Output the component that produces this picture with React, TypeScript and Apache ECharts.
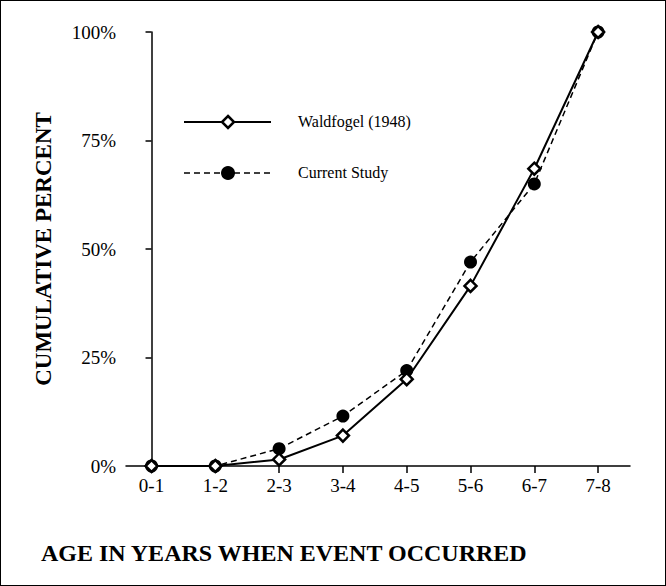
import React, { useEffect, useRef } from 'react';
import * as echarts from 'echarts';

const categories = ['0-1', '1-2', '2-3', '3-4', '4-5', '5-6', '6-7', '7-8'];
const waldfogel = [0, 0, 1.5, 7, 20, 41.5, 68.5, 100];
const currentStudy = [0, 0, 4, 11.5, 22, 47, 65, 100];
const yTicks = [0, 25, 50, 75, 100];

const serif = 'Liberation Serif';
const xPositions = categories.map((_, i) => i);

export default function App() {
  const ref = useRef<HTMLDivElement>(null);

  useEffect(() => {
    const chart = echarts.init(ref.current, null, { renderer: 'svg' });
    chart.setOption({
      animation: false,
      backgroundColor: '#fff',
      grid: { left: 125, right: 35, top: 31, bottom: 119 },
      xAxis: {
        type: 'value', min: -0.4, max: 7.5,
        axisLine: { lineStyle: { color: '#000', width: 1.5 } },
        axisTick: { show: true, length: 7, customValues: xPositions, lineStyle: { color: '#000', width: 1.5 } },
        splitLine: { show: false },
        axisLabel: {
          color: '#000', fontFamily: serif, fontSize: 19, margin: 10,
          customValues: xPositions,
          formatter: (v: number) => categories[Math.round(v)] ?? '',
        },
      },
      yAxis: {
        type: 'value', min: 0, max: 100, interval: 25,
        axisLine: { show: true, lineStyle: { color: '#000', width: 1.5 } },
        axisTick: { show: true, length: 6, lineStyle: { color: '#000', width: 1.5 } },
        splitLine: { show: false },
        axisLabel: {
          color: '#000', fontFamily: serif, fontSize: 19, margin: 10,
          formatter: (v: number) => (yTicks.includes(v) ? v + '%' : ''),
        },
      },
      series: [
        {
          type: 'line', name: 'Current Study',
          data: currentStudy.map((v, i) => [i, v]),
          lineStyle: { color: '#000', width: 1.5, type: [6, 4] },
          symbol: 'circle', symbolSize: 13,
          itemStyle: { color: '#000' },
        },
        {
          type: 'line', name: 'Waldfogel (1948)',
          data: waldfogel.map((v, i) => [i, v]),
          lineStyle: { color: '#000', width: 2 },
          symbol: 'diamond', symbolSize: 12,
          itemStyle: { color: '#fff', borderColor: '#000', borderWidth: 2.5 },
        },
      ],
      graphic: [
        { type: 'line', shape: { x1: 183, y1: 121, x2: 270, y2: 121 }, style: { stroke: '#000', lineWidth: 2 } },
        { type: 'polygon', shape: { points: [[227, 115], [233, 121], [227, 127], [221, 121]] }, style: { fill: '#fff', stroke: '#000', lineWidth: 2.5 } },
        { type: 'text', left: 297, top: 112, style: { text: 'Waldfogel (1948)', font: `16px "${serif}"`, fill: '#000' } },
        { type: 'line', shape: { x1: 183, y1: 172, x2: 270, y2: 172 }, style: { stroke: '#000', lineWidth: 1.5, lineDash: [6, 4] } },
        { type: 'circle', shape: { cx: 227, cy: 172, r: 7 }, style: { fill: '#000' } },
        { type: 'text', left: 297, top: 163, style: { text: 'Current Study', font: `16px "${serif}"`, fill: '#000' } },
        {
          type: 'text', x: 42, y: 248, rotation: Math.PI / 2,
          style: { text: 'CUMULATIVE PERCENT', font: `bold 23px "${serif}"`, fill: '#000', align: 'center', verticalAlign: 'middle' },
        },
        { type: 'text', left: 40, top: 540, style: { text: 'AGE IN YEARS WHEN EVENT OCCURRED', font: `bold 24px "${serif}"`, fill: '#000' } },
      ],
    });
    return () => chart.dispose();
  }, []);

  return (
    <div style={{ position: 'fixed', left: 0, top: 0, width: 666, height: 586, border: '1px solid #000', boxSizing: 'border-box', overflow: 'hidden', background: '#fff' }}>
      <div ref={ref} style={{ width: 664, height: 584 }} />
    </div>
  );
}
